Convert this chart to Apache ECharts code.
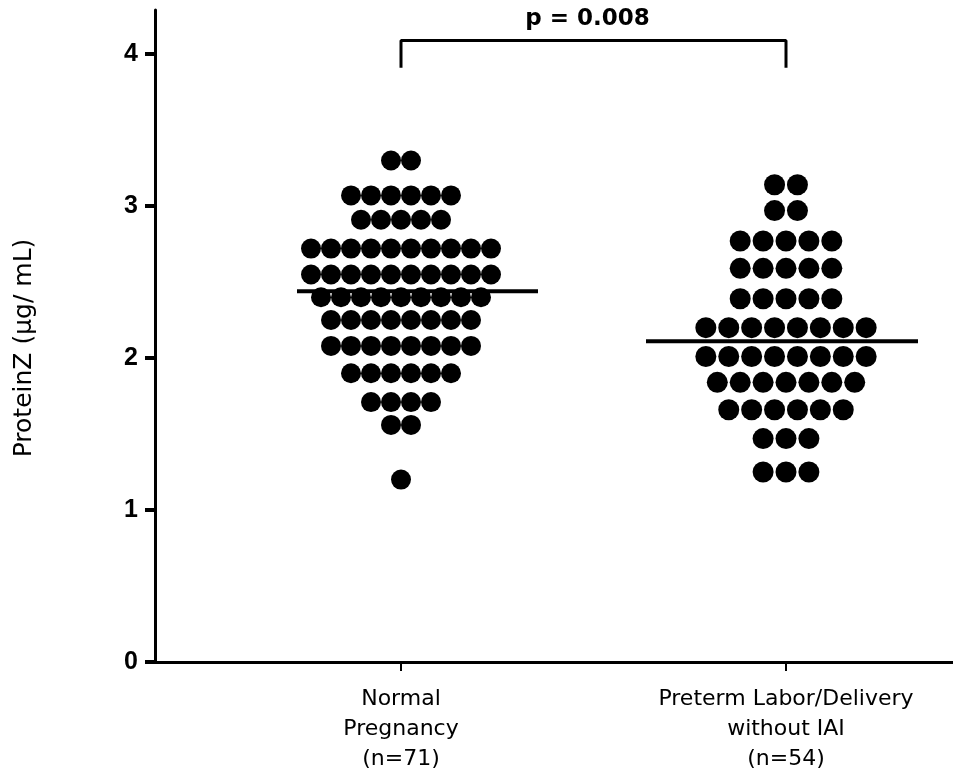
<!DOCTYPE html>
<html>
<head>
<meta charset="utf-8">
<script src="https://cdn.jsdelivr.net/npm/echarts@6/dist/echarts.min.js"></script>
<style>html,body{margin:0;padding:0;background:#fff}#c{width:953px;height:778px}</style>
</head>
<body>
<div id="c"></div>
<script>
const categories = ['Normal\nPregnancy\n(n=71)', 'Preterm Labor/Delivery\nwithout IAI\n(n=54)'];
const normalRowValues = [3.30, 3.07, 2.91, 2.72, 2.55, 2.40, 2.25, 2.08, 1.90, 1.71, 1.56, 1.20];
const normalRowCounts = [2, 6, 5, 10, 10, 9, 8, 8, 6, 4, 2, 1];
const pretermRowValues = [3.14, 2.97, 2.77, 2.59, 2.39, 2.20, 2.01, 1.84, 1.66, 1.47, 1.25];
const pretermRowCounts = [2, 2, 5, 5, 5, 8, 8, 7, 6, 3, 3];
const means = [2.44, 2.11];
const yTicks = [0, 1, 2, 3, 4];
const pLabel = 'p = 0.008';

// layout
const gridLeft = 155, gridRight = 0, gridTop = 10, gridBottom = 116;
const plotW = 953 - gridLeft - gridRight;
const pxPerUnit = 385;
const xMin = 1 - 246 / pxPerUnit;
const xMax = xMin + plotW / pxPerUnit;
const yMax = 4.29;

function swarm(cat, values, counts, spacingPx) {
  const pts = [];
  values.forEach((v, r) => {
    const n = counts[r];
    for (let i = 0; i < n; i++) {
      pts.push([cat + (i - (n - 1) / 2) * spacingPx / pxPerUnit, v]);
    }
  });
  return pts;
}

const chart = echarts.init(document.getElementById('c'), null, {renderer: 'canvas'});
const axisStyle = {lineStyle: {color: '#000', width: 3}};
chart.setOption({
  animation: false,
  grid: {left: gridLeft, right: gridRight, top: gridTop, bottom: gridBottom, containLabel: false},
  xAxis: {
    type: 'value', min: xMin, max: xMax,
    splitLine: {show: false},
    axisLine: axisStyle,
    axisTick: {show: true, length: 9, lineStyle: {color: '#000', width: 2}, customValues: [1, 2]},
    axisLabel: {
      customValues: [1, 2],
      formatter: v => categories[Math.round(v) - 1] || '',
      color: '#000', fontFamily: 'DejaVu Sans', fontSize: 22, lineHeight: 30, margin: 22
    }
  },
  yAxis: {
    type: 'value', min: 0, max: yMax,
    name: 'ProteinZ (\u03bcg/ mL)', nameLocation: 'middle', nameGap: 118,
    nameTextStyle: {color: '#000', fontFamily: 'DejaVu Sans', fontSize: 25, padding: [0, 24, 0, 0]},
    splitLine: {show: false},
    axisLine: axisStyle,
    axisTick: {show: true, length: 10, lineStyle: {color: '#000', width: 4}, customValues: yTicks},
    axisLabel: {customValues: yTicks, color: '#000', fontFamily: 'Liberation Sans', fontWeight: 'bold', fontSize: 25, margin: 17}
  },
  series: [
    {type: 'scatter', symbol: 'circle', symbolSize: 20, itemStyle: {color: '#000', opacity: 1},
     data: swarm(1, normalRowValues, normalRowCounts, 20)},
    {type: 'scatter', symbol: 'circle', symbolSize: 21, itemStyle: {color: '#000', opacity: 1},
     data: swarm(2, pretermRowValues, pretermRowCounts, 22.9)},
    {type: 'line', symbol: 'none', lineStyle: {color: '#000', width: 4},
     data: [[1 - 104 / pxPerUnit, means[0]], [1 + 137 / pxPerUnit, means[0]]]},
    {type: 'line', symbol: 'none', lineStyle: {color: '#000', width: 4},
     data: [[2 - 140 / pxPerUnit, means[1]], [2 + 132 / pxPerUnit, means[1]]]},
    {type: 'line', symbol: 'none', lineStyle: {color: '#000', width: 3},
     data: [[1, 3.91], [1, 4.09], [2, 4.09], [2, 3.91]]}
  ]
});
const mid = chart.convertToPixel({gridIndex: 0}, [1.5, 4.09]);
chart.setOption({
  graphic: [{type: 'text', x: mid[0] - 6, y: mid[1] - 21,
    style: {text: pLabel, fill: '#000', font: 'bold 23px "DejaVu Sans"', align: 'center', verticalAlign: 'middle'}}]
});
</script>
</body>
</html>
